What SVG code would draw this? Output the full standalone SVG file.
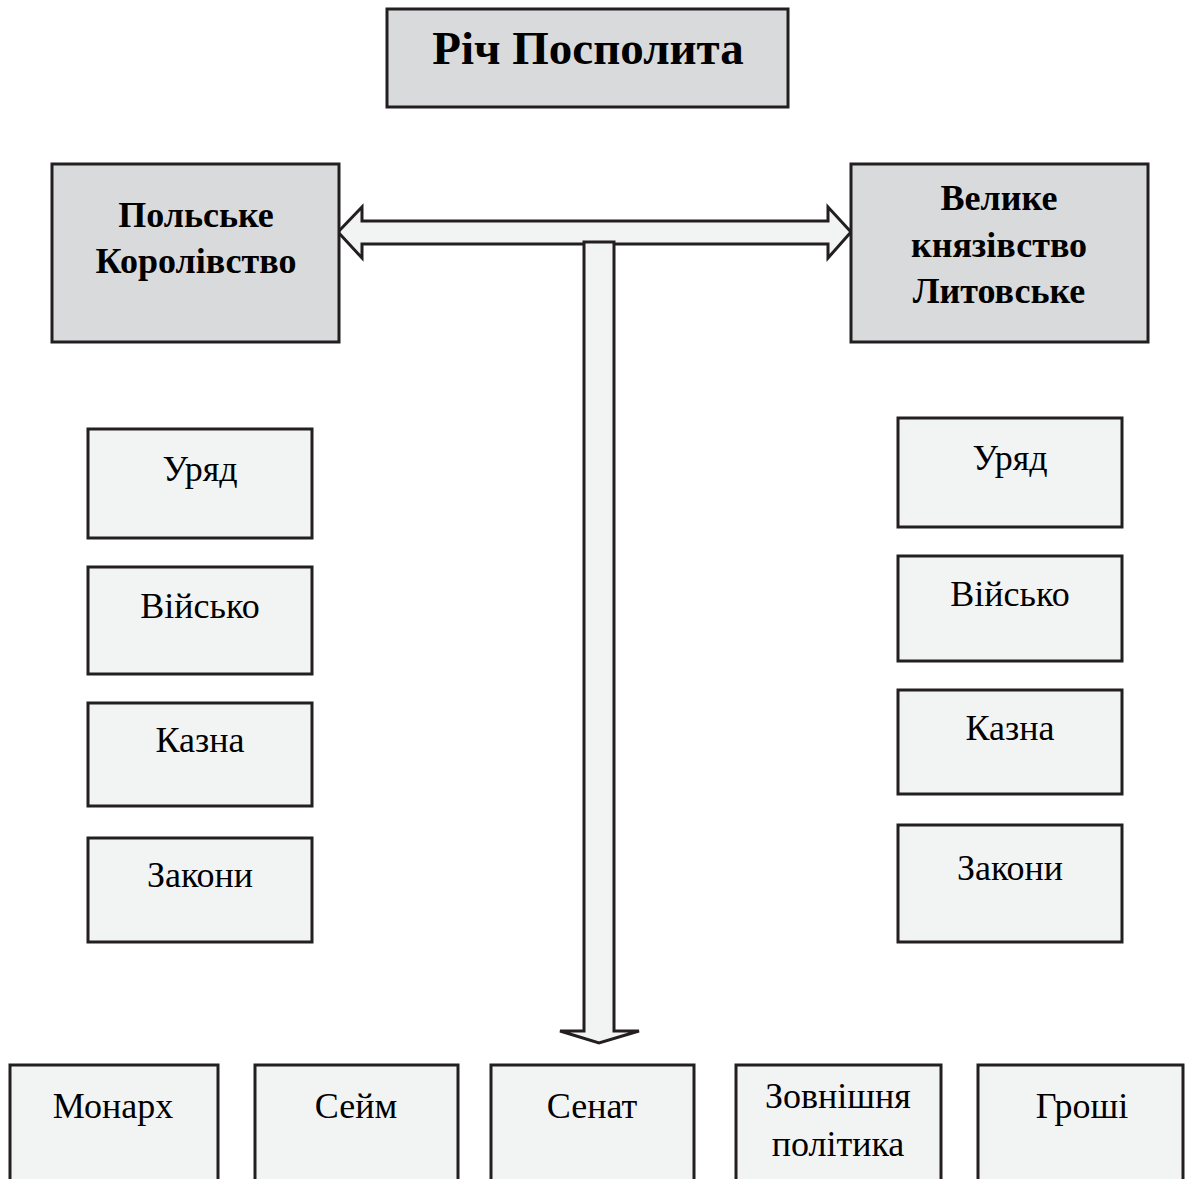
<svg xmlns="http://www.w3.org/2000/svg" width="1187" height="1179" viewBox="0 0 1187 1179">
<style>
.g{fill:#d9dadc;stroke:#231f20;stroke-width:3}
.w{fill:#f2f3f3;stroke:#231f20;stroke-width:3}
.tb{font-family:"Liberation Serif","Times New Roman",serif;font-weight:bold;fill:#000;text-anchor:middle}
.t{font-family:"Liberation Serif","Times New Roman",serif;font-size:36px;fill:#000;text-anchor:middle}
.a{fill:#f2f3f3;stroke:#231f20;stroke-width:3;stroke-linejoin:miter}
</style>
<rect width="1187" height="1179" fill="#fff"/>
<g id="connectors">
<polygon class="a" points="338,232 362,207 362,221 828,221 828,207 851,232 828,258 828,244 362,244 362,258"/>
<polygon class="a" points="584,242 614,242 614,1031 639,1031 599,1043 560,1031 584,1031"/>
</g>
<g id="rich"><rect class="g" x="387" y="9" width="401" height="98"/><text class="tb" x="588" y="64" font-size="47">Річ Посполита</text></g>
<g id="poland"><rect class="g" x="52" y="164" width="287" height="178"/><text class="tb" x="196" y="227" font-size="36">Польське</text><text class="tb" x="196" y="273" font-size="36">Королівство</text></g>
<g id="lithuania"><rect class="g" x="851" y="164" width="297" height="178"/><text class="tb" x="999" y="210" font-size="36">Велике</text><text class="tb" x="999" y="257" font-size="36">князівство</text><text class="tb" x="999" y="303" font-size="36">Литовське</text></g>
<g id="pl-uriad"><rect class="w" x="88" y="429" width="224" height="109"/><text class="t" x="200" y="481">Уряд</text></g>
<g id="pl-viisko"><rect class="w" x="88" y="567" width="224" height="107"/><text class="t" x="200" y="618">Військо</text></g>
<g id="pl-kazna"><rect class="w" x="88" y="703" width="224" height="103"/><text class="t" x="200" y="752">Казна</text></g>
<g id="pl-zakony"><rect class="w" x="88" y="838" width="224" height="104"/><text class="t" x="200" y="887">Закони</text></g>
<g id="lt-uriad"><rect class="w" x="898" y="418" width="224" height="109"/><text class="t" x="1010" y="470">Уряд</text></g>
<g id="lt-viisko"><rect class="w" x="898" y="556" width="224" height="105"/><text class="t" x="1010" y="606">Військо</text></g>
<g id="lt-kazna"><rect class="w" x="898" y="690" width="224" height="104"/><text class="t" x="1010" y="740">Казна</text></g>
<g id="lt-zakony"><rect class="w" x="898" y="825" width="224" height="117"/><text class="t" x="1010" y="880">Закони</text></g>
<g id="monarkh"><rect class="w" x="10" y="1065" width="208" height="120"/><text class="t" x="113" y="1118">Монарх</text></g>
<g id="seim"><rect class="w" x="255" y="1065" width="203" height="120"/><text class="t" x="356" y="1118">Сейм</text></g>
<g id="senat"><rect class="w" x="491" y="1065" width="203" height="120"/><text class="t" x="592" y="1118">Сенат</text></g>
<g id="zovnishnia"><rect class="w" x="736" y="1065" width="205" height="120"/><text class="t" x="838" y="1108">Зовнішня</text><text class="t" x="838" y="1156">політика</text></g>
<g id="groshi"><rect class="w" x="978" y="1065" width="205" height="120"/><text class="t" x="1082" y="1118">Гроші</text></g>
</svg>
